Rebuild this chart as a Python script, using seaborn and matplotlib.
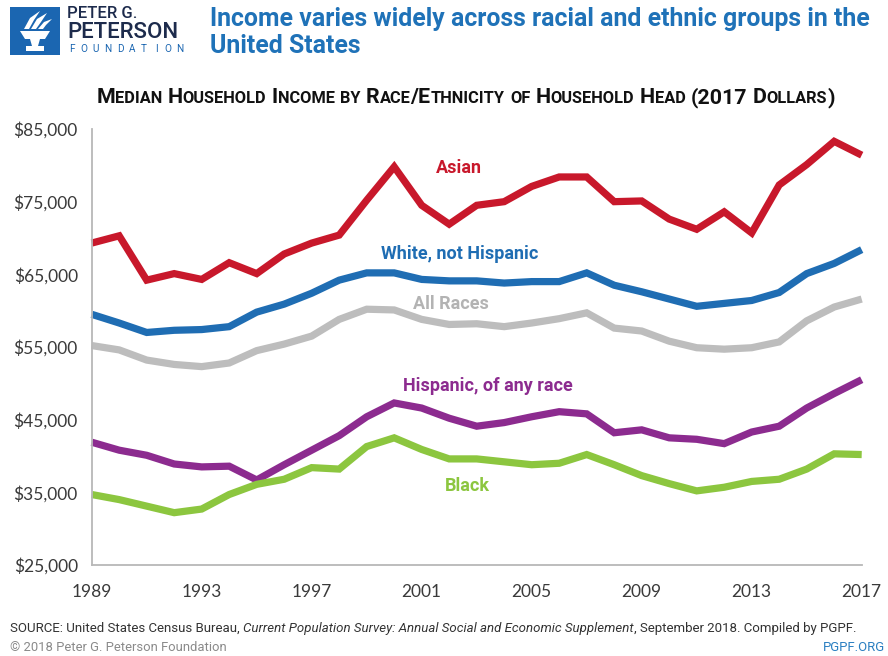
import matplotlib
matplotlib.use("Agg")
import matplotlib.pyplot as plt
import seaborn as sns
import pandas as pd
from matplotlib import font_manager as fm
from matplotlib.transforms import IdentityTransform
from matplotlib.patches import Rectangle, Polygon
from matplotlib.ticker import FuncFormatter

# ---------------- data ----------------
years = list(range(1989, 2018))
asian = [69300, 70300, 64200, 65100, 64300, 66600, 65100, 67800, 69300, 70400,
         75200, 79800, 74500, 71900, 74500, 75000, 77100, 78400, 78400, 75000,
         75100, 72600, 71200, 73600, 70700, 77300, 80100, 83300, 81400]
white_not_hispanic = [59500, 58300, 57000, 57300, 57400, 57800, 59800, 60900, 62400, 64200,
                      65200, 65200, 64300, 64100, 64100, 63800, 64000, 64000, 65200, 63500,
                      62600, 61600, 60600, 61000, 61400, 62500, 65100, 66500, 68400]
all_races = [55200, 54600, 53200, 52600, 52300, 52800, 54500, 55400, 56500, 58800,
             60200, 60100, 58800, 58100, 58200, 57800, 58300, 58900, 59700, 57600,
             57200, 55800, 54900, 54700, 54900, 55700, 58600, 60500, 61600]
hispanic = [41900, 40800, 40100, 38900, 38500, 38600, 36700, 38800, 40800, 42800,
            45400, 47300, 46600, 45200, 44100, 44600, 45400, 46100, 45800, 43200,
            43600, 42500, 42300, 41700, 43300, 44100, 46600, 48600, 50500]
black = [34700, 34000, 33100, 32200, 32700, 34700, 36100, 36800, 38400, 38200,
         41300, 42500, 40900, 39600, 39600, 39200, 38800, 39000, 40200, 38800,
         37300, 36200, 35200, 35700, 36500, 36800, 38200, 40300, 40200]

groups = ["Asian", "White, not Hispanic", "All Races", "Hispanic, of any race", "Black"]
colors = ["#c8182b", "#1f6db3", "#bdbdbd", "#8c2b8f", "#8cc63f"]
label_colors = ["#c8182b", "#1f6db3", "#b3b3b3", "#8c2b8f", "#8cc63f"]
label_pos = [(2002.36, 79640), (2002.39, 67810), (2002.07, 60930), (2003.41, 49650), (2002.65, 35900)]
x_ticks = list(range(1989, 2018, 4))
y_ticks = list(range(25000, 85001, 10000))

series = [asian, white_not_hispanic, all_races, hispanic, black]
df = pd.concat([pd.DataFrame({"year": years, "income": v, "group": g})
                for g, v in zip(groups, series)], ignore_index=True)

# ---------------- fonts ----------------
names = {f.name for f in fm.fontManager.ttflist}
NARROW = "Liberation Sans Narrow" if "Liberation Sans Narrow" in names else "Roboto"
REG = "Roboto" if "Roboto" in names else "DejaVu Sans"
TICKF = "Lato" if "Lato" in names else REG

sns.set_style("white")
plt.rcParams["font.family"] = [REG, "DejaVu Sans"]

W, H = 888, 656
fig = plt.figure(figsize=(W / 100, H / 100), dpi=100)
fig.patch.set_facecolor("white")

# axes placement (pixels): x 91.7 -> 861.7, y 129 -> 565
x0, x1, yt, yb = 91.7, 861.7, 129.0, 565.0
ax = fig.add_axes([x0 / W, 1 - yb / H, (x1 - x0) / W, (yb - yt) / H])

sns.lineplot(data=df, x="year", y="income", hue="group", hue_order=groups,
             palette=dict(zip(groups, colors)), linewidth=5.2, ax=ax, legend=False,
             estimator=None, sort=False)
for ln in ax.lines:
    ln.set_clip_on(False)
    ln.set_solid_joinstyle("miter")
    ln.set_solid_capstyle("butt")

ax.set_xlim(1989, 2017)
ax.set_ylim(25000, 85000)
ax.set_xticks(x_ticks)
ax.set_yticks(y_ticks)
ax.yaxis.set_major_formatter(FuncFormatter(lambda v, p: f"${int(v):,}"))
ax.set_xlabel("")
ax.set_ylabel("")
for s in ["top", "right"]:
    ax.spines[s].set_visible(False)
for s in ["left", "bottom"]:
    ax.spines[s].set_color("#b8b8b8")
    ax.spines[s].set_linewidth(1.3)
ax.tick_params(axis="both", direction="out", length=5, width=1.2, color="#b8b8b8",
               labelcolor="#3a3a3a", labelsize=12.5)
ax.tick_params(axis="y", pad=5)
ax.tick_params(axis="x", pad=9)
for lab in ax.get_xticklabels() + ax.get_yticklabels():
    lab.set_fontfamily([TICKF, "DejaVu Sans"])

for g, c, (lx, ly) in zip(groups, label_colors, label_pos):
    ax.text(lx, ly, g, color=c, fontsize=13, fontweight="bold", family=[NARROW, "DejaVu Sans"],
            ha="center", va="center")

# ---------------- rich text helpers ----------------
renderer = fig.canvas.get_renderer()
IT = IdentityTransform()


def measure(s, kw):
    t = fig.text(0, 0, s, transform=IT, **kw)
    w = t.get_window_extent(renderer).width
    t.remove()
    return w


def piece_w(s, kw):
    if s == " ":
        return measure("n n", kw) - measure("nn", kw)
    return measure(s, kw)


def rich(pieces, x, y, ha="left", target_width=None):
    if target_width is not None:
        tot = sum(piece_w(s, kw) for s, kw in pieces)
        sc = target_width / tot
        pieces = [(s, {**kw, "fontsize": kw["fontsize"] * sc}) for s, kw in pieces]
    tot = sum(piece_w(s, kw) for s, kw in pieces)
    if ha == "center":
        x = x - tot / 2
    elif ha == "right":
        x = x - tot
    for s, kw in pieces:
        w = piece_w(s, kw)
        if s != " ":
            fig.text(x, H - y, s, transform=IT, ha="left", va="baseline", **kw)
        x += w
    return pieces[0][1]["fontsize"]


# ---------------- logo ----------------
fig.patches.append(Rectangle((10, H - 55), 50, 48, transform=IT, facecolor="#1b66b1",
                             edgecolor="none", figure=fig))
wh = dict(transform=IT, facecolor="white", edgecolor="none", figure=fig)
cup = [(20, 31), (50, 31), (45, 39), (25, 39)]
stem = [(30, 39), (40, 39), (38, 46), (32, 46)]
base = [(26, 46), (44, 46), (44, 51), (26, 51)]
fl1 = [(24, 29), (30, 18), (40, 11), (34, 20), (29, 29)]
fl2 = [(31, 29), (37, 19), (47, 13), (41, 22), (36, 29)]
fl3 = [(38, 29), (44, 22), (52, 19), (46, 25), (43, 29)]
for poly in [cup, stem, base, fl1, fl2, fl3]:
    fig.patches.append(Polygon([(px, H - py) for px, py in poly], closed=True, **wh))

navy = "#1d2b4c"
fig.text(67, H - 18, "PETER G.", transform=IT, ha="left", va="baseline", fontsize=12.0,
         color=navy, fontweight="medium", family=[REG, "DejaVu Sans"])
fig.text(67, H - 38.5, "PETERSON", transform=IT, ha="left", va="baseline", fontsize=16.0,
         color=navy, fontweight="medium", family=[REG, "DejaVu Sans"])
fcol = "#1b66b1"
letters = "FOUNDATION"
for i, ch in enumerate(letters):
    cx = 72 + i * (180 - 72) / (len(letters) - 1)
    fig.text(cx, H - 52.5, ch, transform=IT, ha="center", va="baseline", fontsize=7.2,
             color=fcol, family=[REG, "DejaVu Sans"])

# ---------------- title ----------------
tblue = "#1f72b8"
tk = dict(fontsize=18, color=tblue, fontweight="bold", family=[NARROW, "DejaVu Sans"])
tsize = rich([("Income varies widely across racial and ethnic groups in the", tk)],
             210, 26, target_width=662)
rich([("United States", {**tk, "fontsize": tsize})], 210, 53)

# subtitle in small caps
sub = "Median Household Income by Race/Ethnicity of Household Head (2017 Dollars)"
BIG, SMALL = 15.0, 11.5
base_kw = dict(color="#111111", fontweight="bold", family=[NARROW, "DejaVu Sans"])
pieces = []
for wi, word in enumerate(sub.split(" ")):
    if wi > 0:
        pieces.append((" ", {**base_kw, "fontsize": BIG}))
    run, run_small = "", None
    for ch in word:
        is_small = ch.islower()
        if run_small is None or is_small == run_small:
            run += ch.upper()
            run_small = is_small
        else:
            pieces.append((run, {**base_kw, "fontsize": SMALL if run_small else BIG}))
            run, run_small = ch.upper(), is_small
    if run:
        pieces.append((run, {**base_kw, "fontsize": SMALL if run_small else BIG}))
rich(pieces, 465.5, 103, ha="center", target_width=741)

# ---------------- footer ----------------
fk = dict(fontsize=9, color="#333333", family=[REG, "DejaVu Sans"])
fi = {**fk, "style": "italic"}
rich([("SOURCE: United States Census Bureau,", fk), (" ", fk),
      ("Current Population Survey: Annual Social and Economic Supplement", fi),
      (", September 2018. Compiled by PGPF.", fk)], 10, 632, target_width=852)
rich([("\u00a9 2018 Peter G. Peterson Foundation", dict(fontsize=9, color="#8a8a8a",
                                                      family=[REG, "DejaVu Sans"]))],
     10, 651, target_width=217)
rich([("PGPF.ORG", dict(fontsize=9, color="#2a7fc1", family=[REG, "DejaVu Sans"]))],
     885, 651, ha="right", target_width=62)

fig.savefig("out.png", dpi=100, facecolor="white")
